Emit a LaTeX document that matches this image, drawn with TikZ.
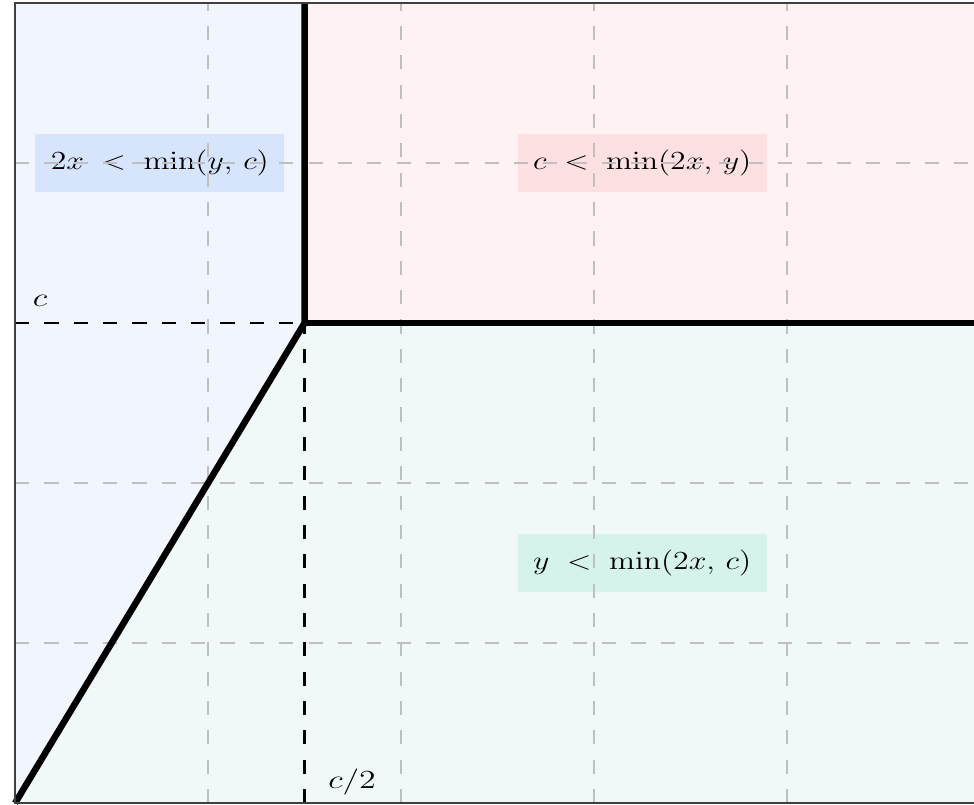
\documentclass[tikz,border=0pt]{standalone}
\definecolor{fillblue}{RGB}{240,245,254}
\definecolor{fillred}{RGB}{254,243,242}
\definecolor{fillgreen}{RGB}{240,249,248}
\definecolor{boxblue}{RGB}{214,228,252}
\definecolor{boxred}{RGB}{253,224,225}
\definecolor{boxgreen}{RGB}{214,242,236}
\begin{document}
\begin{tikzpicture}[
	x=3.12cm, y=2.587cm,
	gridline/.style={ black!25, line width=0.9pt, dash pattern=on 6.5pt off 7pt },
	guide/.style={ black, line width=1.2pt, dash pattern=on 6.5pt off 7pt },
	border/.style={ black, line width=3pt },
	frame/.style={ black!75, line width=0.6pt },
	regionlabel/.style={ xscale=1.22, font=\large, inner sep=2pt, minimum width=94pt, minimum height=26.7pt },
	ticklabel/.style={ xscale=1.3, font=\large, inner sep=0pt }
]
\clip (-0.078,-0.006) rectangle (4.969,5.019);

\coordinate (o) at (0,0);
\coordinate (k) at (1.5,3);
\coordinate (kt) at (1.5,5);
\coordinate (kr) at (5,3);
\coordinate (kb) at (1.5,0);
\coordinate (kl) at (0,3);

\fill[fillblue] (o) -- (k) -- (kt) -- (0,5) -- cycle;
\fill[fillred] (k) -- (kt) -- (5,5) -- (kr) -- cycle;
\fill[fillgreen] (o) -- (k) -- (kr) -- (5,0) -- cycle;

\node at (0.75,4) (rblue) [regionlabel,fill=boxblue] {$2x \;<\; \min(y,\, c)$};
\node at (3.25,4) (rred) [regionlabel,fill=boxred] {$c \;<\; \min(2x,\, y)$};
\node at (3.25,1.5) (rgreen) [regionlabel,fill=boxgreen] {$y \;<\; \min(2x,\, c)$};

\foreach \x in {1,2,3,4}
	\draw[gridline] (\x,0) -- (\x,5);
\foreach \y in {1,2,3,4}
	\draw[gridline] (0,\y) -- (5,\y);

\draw[guide] (kl) -- (k);
\draw[guide] (kb) -- (k);

\draw[border] (o) -- (k) -- (kt);
\draw[border] (k) -- (kr);
\draw[frame] (0,0) rectangle (5,5);

\node at (0.13,3.14) (tc) [ticklabel] {$c$};
\node at (1.746,0.13) (tchalf) [ticklabel] {$c/2$};

\end{tikzpicture}
\end{document}
